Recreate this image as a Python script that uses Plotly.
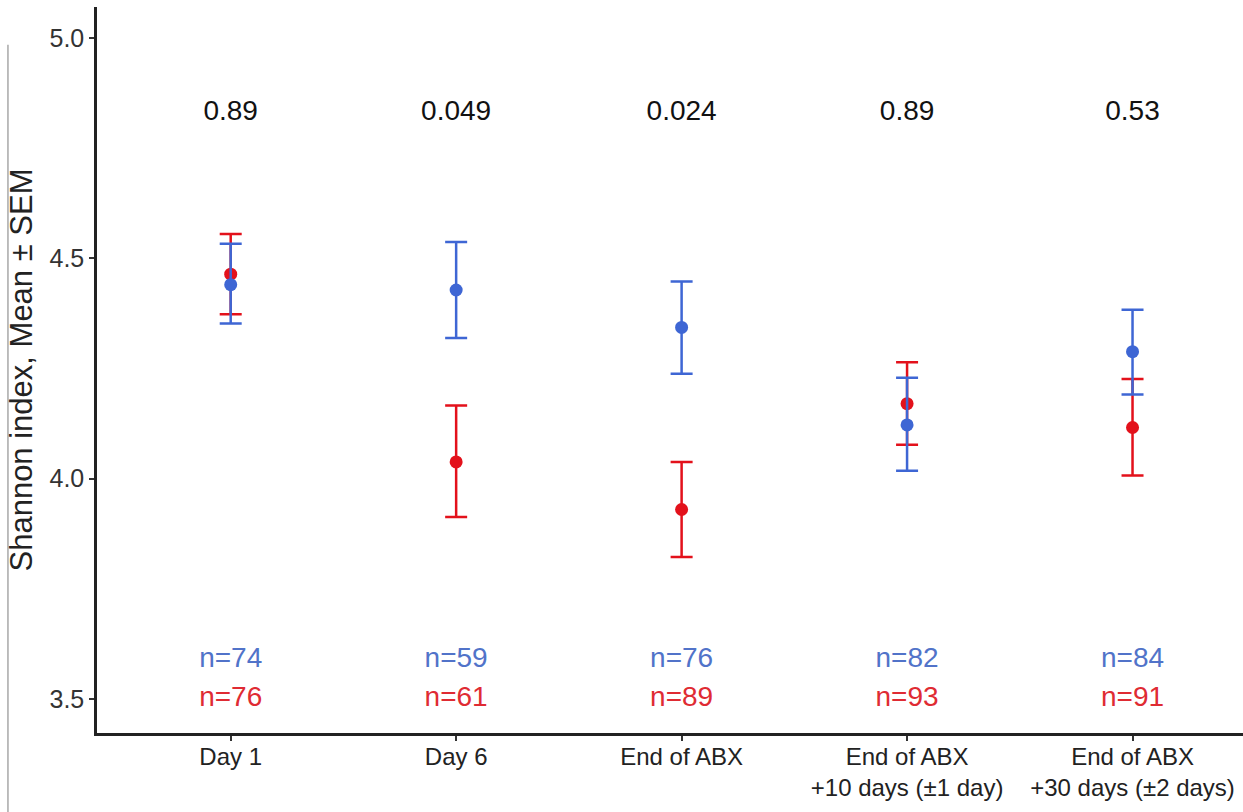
import plotly.graph_objects as go

categories = ["Day 1", "Day 6", "End of ABX", "End of ABX<br>+10 days (±1 day)", "End of ABX<br>+30 days (±2 days)"]
x_pos = [1, 2, 3, 4, 5]

blue_mean = [4.440, 4.428, 4.343, 4.122, 4.288]
blue_low = [4.352, 4.319, 4.238, 4.018, 4.191]
blue_high = [4.533, 4.537, 4.447, 4.229, 4.383]

red_mean = [4.464, 4.038, 3.930, 4.170, 4.116]
red_low = [4.373, 3.913, 3.822, 4.077, 4.007]
red_high = [4.555, 4.166, 4.038, 4.264, 4.226]

p_values = ["0.89", "0.049", "0.024", "0.89", "0.53"]
n_blue = ["n=74", "n=59", "n=76", "n=82", "n=84"]
n_red = ["n=76", "n=61", "n=89", "n=93", "n=91"]

BLUE = "#3E66D4"
RED = "#E3111B"
FONT = "Liberation Sans, Arial, sans-serif"

fig = go.Figure()

for mean, low, high, col in [(red_mean, red_low, red_high, RED), (blue_mean, blue_low, blue_high, BLUE)]:
    fig.add_trace(go.Scatter(
        x=x_pos, y=mean, mode="markers",
        marker=dict(color=col, size=13),
        error_y=dict(type="data", symmetric=False,
                     array=[h - m for h, m in zip(high, mean)],
                     arrayminus=[m - l for m, l in zip(mean, low)],
                     color=col, thickness=2.5, width=11),
        showlegend=False, hoverinfo="skip"))

fig.add_trace(go.Scatter(x=x_pos, y=[4.83] * 5, mode="text", text=p_values,
                         textfont=dict(family=FONT, size=28, color="#111111"),
                         showlegend=False, hoverinfo="skip"))
fig.add_trace(go.Scatter(x=x_pos, y=[3.588] * 5, mode="text", text=n_blue,
                         textfont=dict(family=FONT, size=28, color="#5173C9"),
                         showlegend=False, hoverinfo="skip"))
fig.add_trace(go.Scatter(x=x_pos, y=[3.5] * 5, mode="text", text=n_red,
                         textfont=dict(family=FONT, size=28, color="#DF2B33"),
                         showlegend=False, hoverinfo="skip"))

# faint border line at the far left of the reference image
fig.add_shape(type="line", xref="paper", yref="paper",
              x0=-0.0777, x1=-0.0777, y0=-0.109, y1=0.948,
              line=dict(color="#a8a8a8", width=1.5))

fig.update_layout(
    width=1243, height=812,
    margin=dict(l=97, r=0, t=7, b=79),
    plot_bgcolor="white", paper_bgcolor="white",
    font=dict(family=FONT, color="#222222"),
    xaxis=dict(range=[0.407, 5.49], tickvals=x_pos, ticktext=categories,
               showgrid=False, zeroline=False, showline=True, linecolor="#222222", linewidth=2.5,
               ticks="outside", ticklen=5, tickwidth=1.5, tickcolor="#333333",
               ticklabelstandoff=-5,
               tickfont=dict(family=FONT, size=24, color="#222222")),
    yaxis=dict(range=[3.423, 5.07], tickvals=[3.5, 4.0, 4.5, 5.0], ticktext=["3.5", "4.0", "4.5", "5.0"],
               showgrid=False, zeroline=False, showline=True, linecolor="#222222", linewidth=2.5,
               ticks="outside", ticklen=5, tickwidth=1.5, tickcolor="#333333",
               tickfont=dict(family=FONT, size=25, color="#333333"),
               title=dict(text="Shannon index, Mean ± SEM", font=dict(family=FONT, size=31, color="#222222"),
                          standoff=8)),
)

fig.write_html("out.html")
